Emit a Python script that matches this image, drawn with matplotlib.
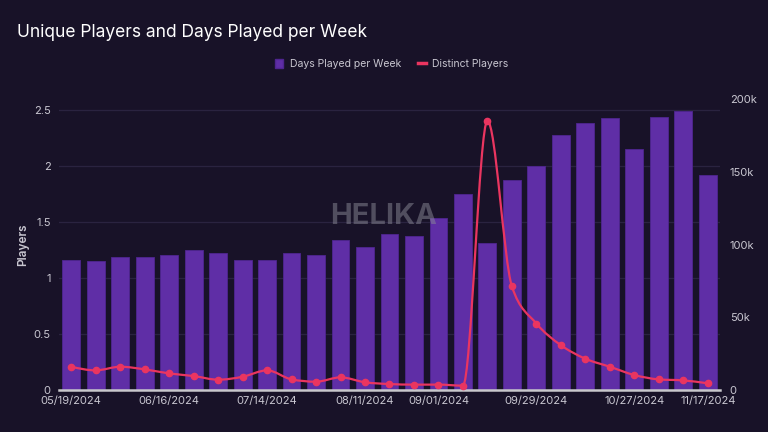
import matplotlib.pyplot as plt
import numpy as np
from matplotlib.path import Path
from matplotlib.patches import PathPatch, Patch
from matplotlib.lines import Line2D

# weekly data, 05/19/2024 .. 11/17/2024
weeks = ['05/19/2024', '05/26/2024', '06/02/2024', '06/09/2024', '06/16/2024', '06/23/2024',
         '06/30/2024', '07/07/2024', '07/14/2024', '07/21/2024', '07/28/2024', '08/04/2024',
         '08/11/2024', '08/18/2024', '08/25/2024', '09/01/2024', '09/08/2024', '09/15/2024',
         '09/22/2024', '09/29/2024', '10/06/2024', '10/13/2024', '10/20/2024', '10/27/2024',
         '11/03/2024', '11/10/2024', '11/17/2024']
days_played = [1.16, 1.15, 1.19, 1.19, 1.21, 1.25, 1.22, 1.16, 1.16, 1.22, 1.21, 1.34,
               1.28, 1.39, 1.38, 1.54, 1.75, 1.31, 1.88, 2.00, 2.28, 2.39, 2.43, 2.15,
               2.44, 2.49, 1.92]
distinct_players = [16000, 13500, 16000, 14200, 11400, 9600, 7100, 9100, 13500, 7300, 5700, 8700,
                    5300, 4100, 3700, 3700, 3000, 185000, 71200, 45700, 30800, 21500, 16000, 10300,
                    7300, 6600, 4600]
shown_ticks = ['05/19/2024', '06/16/2024', '07/14/2024', '08/11/2024', '09/01/2024',
               '09/29/2024', '10/27/2024', '11/17/2024']

BG = '#181228'
BAR = '#5f2ea6'
LINE = '#ea3560'
TXT = '#c9c7d1'
GRID = '#2a2340'


def monotone_path(x, y):
    # monotone cubic (like d3 curveMonotoneX) as bezier segments
    x = np.asarray(x, float)
    y = np.asarray(y, float)
    n = len(x)
    h = np.diff(x)
    s = np.diff(y) / h
    t = np.zeros(n)
    for i in range(1, n - 1):
        p = (s[i - 1] * h[i] + s[i] * h[i - 1]) / (h[i - 1] + h[i])
        t[i] = (np.sign(s[i - 1]) + np.sign(s[i])) * min(abs(s[i - 1]), abs(s[i]), 0.5 * abs(p))
    t[0] = (3 * s[0] - t[1]) / 2
    t[-1] = (3 * s[-1] - t[-2]) / 2
    verts = [(x[0], y[0])]
    codes = [Path.MOVETO]
    for i in range(n - 1):
        dx = h[i] / 3
        verts += [(x[i] + dx, y[i] + dx * t[i]), (x[i + 1] - dx, y[i + 1] - dx * t[i + 1]),
                  (x[i + 1], y[i + 1])]
        codes += [Path.CURVE4] * 3
    return Path(verts, codes)


plt.rcParams['font.family'] = ['Inter', 'DejaVu Sans']

fig = plt.figure(figsize=(7.68, 4.32), dpi=100, facecolor=BG)
ax = fig.add_axes([0.0768, 0.0972, 0.8607, 0.6736])
ax.set_facecolor(BG)
ax2 = ax.twinx()

xs = np.arange(len(weeks))
ax.bar(xs, days_played, width=0.73, color=BAR, edgecolor='#4f2590', linewidth=0.6, zorder=2)
ax.set_xlim(-0.5, len(weeks) - 0.5)
ax.set_ylim(0, 2.6)
ax.set_yticks([0, 0.5, 1, 1.5, 2, 2.5])
ax.set_yticklabels(['0', '0.5', '1', '1.5', '2', '2.5'])
for v in [0.5, 1, 1.5, 2, 2.5]:
    ax.axhline(v, color=GRID, linewidth=0.9, zorder=0)
ax.set_xticks([weeks.index(w) for w in shown_ticks])
ax.set_xticklabels(shown_ticks)
ax.set_ylabel('Players', color=TXT, fontsize=8.5, fontweight='semibold', labelpad=3)

ax2.set_ylim(0, 200000)
ax2.set_yticks([0, 50000, 100000, 150000, 200000])
ax2.set_yticklabels(['0', '50k', '100k', '150k', '200k'])
ax2.add_patch(PathPatch(monotone_path(xs, distinct_players), fill=False, edgecolor=LINE,
                        linewidth=1.6, zorder=3))
ax2.plot(xs, distinct_players, 'o', color=LINE, markersize=4.5, zorder=4)

for a in (ax, ax2):
    for side in ('top', 'left', 'right', 'bottom'):
        a.spines[side].set_visible(False)
    a.tick_params(length=0, colors=TXT, labelsize=8)
ax.axhline(0, color='#c8c8cc', linewidth=1.8, zorder=5, clip_on=False)
ax.tick_params(axis='x', pad=4)
ax.tick_params(axis='y', pad=6)
ax2.tick_params(axis='y', pad=7)

# watermark
fig.text(0.5, 0.5, 'HELIKA', color='#8a8a96', alpha=0.5, fontsize=21, fontweight='bold',
         ha='center', va='center', zorder=10)

fig.text(0.022, 0.925, 'Unique Players and Days Played per Week', color='white',
         fontsize=12.5, ha='left', va='center')

handles = [Patch(facecolor=BAR, edgecolor='#4f2590'),
           Line2D([0], [0], color=LINE, linewidth=2.5)]
fig.legend(handles, ['Days Played per Week', 'Distinct Players'], loc='center',
           bbox_to_anchor=(0.51, 0.852), ncol=2, frameon=False, fontsize=7.5,
           labelcolor=TXT, handlelength=0.8, handleheight=1.0, columnspacing=1.6,
           handletextpad=0.6)

fig.savefig('out.png', dpi=100, facecolor=BG)
